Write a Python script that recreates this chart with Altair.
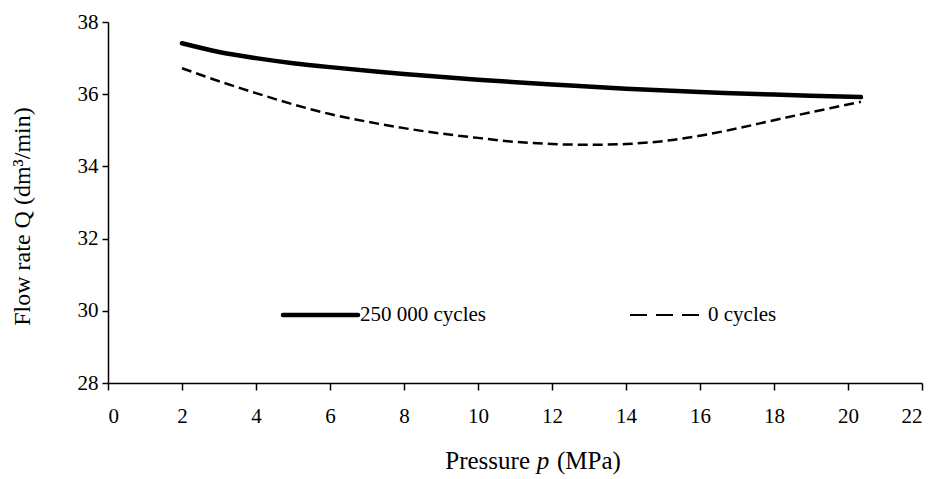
import altair as alt
import pandas as pd

# Data
p_250k = [2, 3, 4, 5, 6, 8, 10, 12, 14, 16, 18, 20.35]
q_250k = [37.41, 37.17, 37.00, 36.86, 36.75, 36.56, 36.40, 36.27, 36.15, 36.06, 35.99, 35.92]

p_0 = [2, 3, 4, 5, 6, 7, 8, 9, 10, 11, 12, 13, 14, 15, 16, 17, 18, 19, 20.35]
q_0 = [36.72, 36.36, 36.03, 35.72, 35.45, 35.24, 35.06, 34.91, 34.79, 34.68, 34.62, 34.60,
       34.62, 34.70, 34.85, 35.05, 35.28, 35.50, 35.79]

x_ticks = list(range(0, 23, 2))
y_ticks = list(range(28, 39, 2))

FONT = "Liberation Serif"
W, H = 814, 361

df1 = pd.DataFrame({"p": p_250k, "q": q_250k})
df0 = pd.DataFrame({"p": p_0, "q": q_0})

xs = alt.Scale(domain=[0, 22], nice=False, zero=False)
ys = alt.Scale(domain=[28, 38], nice=False, zero=False)

xax = alt.Axis(values=x_ticks, title=None, grid=False, tickSize=7, labelPadding=15)
yax = alt.Axis(values=y_ticks, title="Flow rate Q (dm³/min)", grid=False, tickSize=6,
               labelPadding=4, titleFontSize=24, titleFont=FONT, titleFontWeight="normal",
               titleColor="black", titleX=-86, titleY=194, titleAngle=270,
               titleBaseline="middle", titleAlign="center")

line1 = alt.Chart(df1).mark_line(color="black", strokeWidth=4.5, interpolate="catmull-rom",
                                 strokeCap="round", strokeJoin="round").encode(
    x=alt.X("p:Q", scale=xs, axis=xax),
    y=alt.Y("q:Q", scale=ys, axis=yax),
)
line0 = alt.Chart(df0).mark_line(color="black", strokeWidth=2.5, interpolate="catmull-rom",
                                 strokeDash=[10, 5]).encode(
    x=alt.X("p:Q", scale=xs),
    y=alt.Y("q:Q", scale=ys),
)

leg_y = 293
leg1 = alt.Chart(df1.head(1)).mark_rule(color="black", strokeWidth=4.5, strokeCap="round").encode(
    x=alt.value(175), x2=alt.value(250), y=alt.value(leg_y))
leg1t = alt.Chart(df1.head(1)).mark_text(text="250 000 cycles", font=FONT, fontSize=21,
                                         align="left", baseline="middle", color="black").encode(
    x=alt.value(252), y=alt.value(leg_y))
leg0 = alt.Chart(df0.head(1)).mark_rule(color="black", strokeWidth=2, strokeDash=[17, 9]).encode(
    x=alt.value(522), x2=alt.value(596), y=alt.value(leg_y))
leg0t = alt.Chart(df0.head(1)).mark_text(text="0 cycles", font=FONT, fontSize=21,
                                         align="left", baseline="middle", color="black").encode(
    x=alt.value(600), y=alt.value(leg_y))

# x-axis title with italic p
TY = 447
t_a = alt.Chart(df1.head(1)).mark_text(text="Pressure", font=FONT, fontSize=25, align="right",
                                       baseline="alphabetic", color="black").encode(
    x=alt.value(422), y=alt.value(TY))
t_p = alt.Chart(df1.head(1)).mark_text(text="p", font=FONT, fontSize=25, fontStyle="italic",
                                       align="center", baseline="alphabetic", color="black").encode(
    x=alt.value(435), y=alt.value(TY))
t_b = alt.Chart(df1.head(1)).mark_text(text="(MPa)", font=FONT, fontSize=25, align="left",
                                       baseline="alphabetic", color="black").encode(
    x=alt.value(449), y=alt.value(TY))

chart = alt.layer(line1, line0, leg1, leg1t, leg0, leg0t, t_a, t_p, t_b).properties(
    width=W, height=H,
    autosize=alt.AutoSizeParams(type="none"),
    padding={"left": 100, "top": 14, "right": 6, "bottom": 95},
).configure_view(stroke=None).configure_axis(
    domainColor="black", tickColor="black", domainWidth=1.5, tickWidth=1.5,
    labelFont=FONT, labelFontSize=21, labelColor="black",
)

chart.save("out.html", embed_options={"renderer": "svg", "actions": False})
